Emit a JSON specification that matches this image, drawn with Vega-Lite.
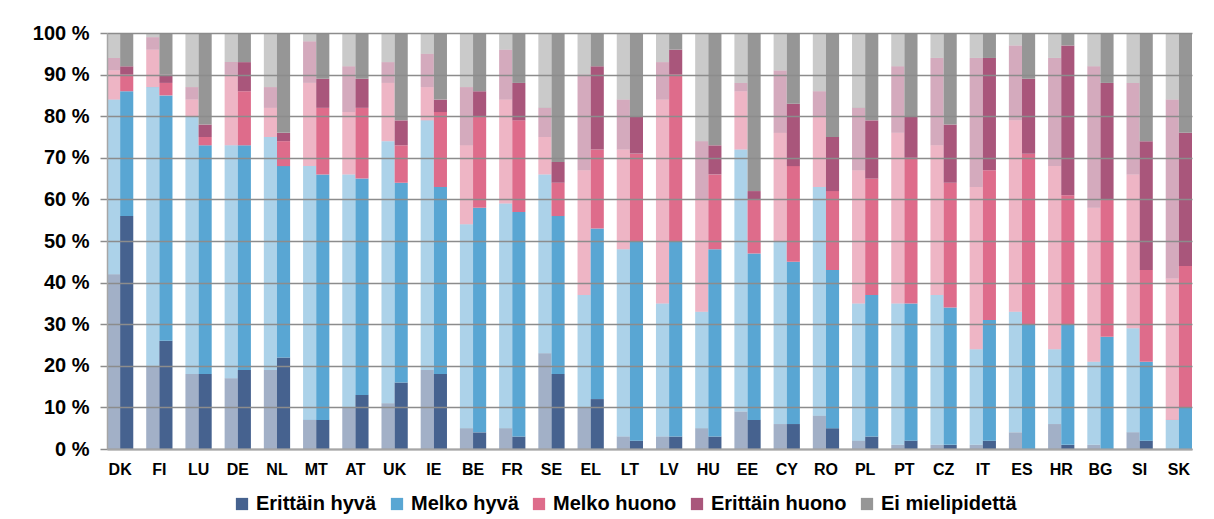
{
  "$schema": "https://vega.github.io/schema/vega-lite/v6.json",
  "width": 1085,
  "height": 416,
  "autosize": {"type": "none"},
  "padding": {"left": 107, "top": 33, "right": 22, "bottom": 70},
  "background": "white",
  "config": {
    "view": {"stroke": null},
    "font": "Liberation Sans"
  },
  "datasets": {
    "luokat": [
      {"k": "eh", "luokka": "Erittäin hyvä", "n": 1},
      {"k": "mh", "luokka": "Melko hyvä", "n": 2},
      {"k": "mhu", "luokka": "Melko huono", "n": 3},
      {"k": "ehu", "luokka": "Erittäin huono", "n": 4},
      {"k": "ei", "luokka": "Ei mielipidettä", "n": 5}
    ],
    "maat": [
      {"maa": "DK", "aalto": "aiempi", "eh": 42, "mh": 42, "mhu": 7, "ehu": 3, "ei": 6},
      {"maa": "DK", "aalto": "uusin", "eh": 56, "mh": 30, "mhu": 4, "ehu": 2, "ei": 8},
      {"maa": "FI", "aalto": "aiempi", "eh": 20, "mh": 67, "mhu": 9, "ehu": 3, "ei": 1},
      {"maa": "FI", "aalto": "uusin", "eh": 26, "mh": 59, "mhu": 3, "ehu": 2, "ei": 10},
      {"maa": "LU", "aalto": "aiempi", "eh": 18, "mh": 62, "mhu": 4, "ehu": 3, "ei": 13},
      {"maa": "LU", "aalto": "uusin", "eh": 18, "mh": 55, "mhu": 2, "ehu": 3, "ei": 22},
      {"maa": "DE", "aalto": "aiempi", "eh": 17, "mh": 56, "mhu": 17, "ehu": 3, "ei": 7},
      {"maa": "DE", "aalto": "uusin", "eh": 19, "mh": 54, "mhu": 13, "ehu": 7, "ei": 7},
      {"maa": "NL", "aalto": "aiempi", "eh": 19, "mh": 56, "mhu": 7, "ehu": 5, "ei": 13},
      {"maa": "NL", "aalto": "uusin", "eh": 22, "mh": 46, "mhu": 6, "ehu": 2, "ei": 24},
      {"maa": "MT", "aalto": "aiempi", "eh": 7, "mh": 61, "mhu": 20, "ehu": 10, "ei": 2},
      {"maa": "MT", "aalto": "uusin", "eh": 7, "mh": 59, "mhu": 16, "ehu": 7, "ei": 11},
      {"maa": "AT", "aalto": "aiempi", "eh": 10, "mh": 56, "mhu": 15, "ehu": 11, "ei": 8},
      {"maa": "AT", "aalto": "uusin", "eh": 13, "mh": 52, "mhu": 17, "ehu": 7, "ei": 11},
      {"maa": "UK", "aalto": "aiempi", "eh": 11, "mh": 63, "mhu": 14, "ehu": 5, "ei": 7},
      {"maa": "UK", "aalto": "uusin", "eh": 16, "mh": 48, "mhu": 9, "ehu": 6, "ei": 21},
      {"maa": "IE", "aalto": "aiempi", "eh": 19, "mh": 60, "mhu": 8, "ehu": 8, "ei": 5},
      {"maa": "IE", "aalto": "uusin", "eh": 18, "mh": 45, "mhu": 18, "ehu": 3, "ei": 16},
      {"maa": "BE", "aalto": "aiempi", "eh": 5, "mh": 49, "mhu": 19, "ehu": 14, "ei": 13},
      {"maa": "BE", "aalto": "uusin", "eh": 4, "mh": 54, "mhu": 22, "ehu": 6, "ei": 14},
      {"maa": "FR", "aalto": "aiempi", "eh": 5, "mh": 54, "mhu": 25, "ehu": 12, "ei": 4},
      {"maa": "FR", "aalto": "uusin", "eh": 3, "mh": 54, "mhu": 22, "ehu": 9, "ei": 12},
      {"maa": "SE", "aalto": "aiempi", "eh": 23, "mh": 43, "mhu": 9, "ehu": 7, "ei": 18},
      {"maa": "SE", "aalto": "uusin", "eh": 18, "mh": 38, "mhu": 8, "ehu": 5, "ei": 31},
      {"maa": "EL", "aalto": "aiempi", "eh": 10, "mh": 27, "mhu": 30, "ehu": 23, "ei": 10},
      {"maa": "EL", "aalto": "uusin", "eh": 12, "mh": 41, "mhu": 19, "ehu": 20, "ei": 8},
      {"maa": "LT", "aalto": "aiempi", "eh": 3, "mh": 45, "mhu": 24, "ehu": 12, "ei": 16},
      {"maa": "LT", "aalto": "uusin", "eh": 2, "mh": 48, "mhu": 21, "ehu": 9, "ei": 20},
      {"maa": "LV", "aalto": "aiempi", "eh": 3, "mh": 32, "mhu": 49, "ehu": 9, "ei": 7},
      {"maa": "LV", "aalto": "uusin", "eh": 3, "mh": 47, "mhu": 40, "ehu": 6, "ei": 4},
      {"maa": "HU", "aalto": "aiempi", "eh": 5, "mh": 28, "mhu": 27, "ehu": 14, "ei": 26},
      {"maa": "HU", "aalto": "uusin", "eh": 3, "mh": 45, "mhu": 18, "ehu": 7, "ei": 27},
      {"maa": "EE", "aalto": "aiempi", "eh": 9, "mh": 63, "mhu": 14, "ehu": 2, "ei": 12},
      {"maa": "EE", "aalto": "uusin", "eh": 7, "mh": 40, "mhu": 13, "ehu": 2, "ei": 38},
      {"maa": "CY", "aalto": "aiempi", "eh": 6, "mh": 44, "mhu": 26, "ehu": 15, "ei": 9},
      {"maa": "CY", "aalto": "uusin", "eh": 6, "mh": 39, "mhu": 23, "ehu": 15, "ei": 17},
      {"maa": "RO", "aalto": "aiempi", "eh": 8, "mh": 55, "mhu": 17, "ehu": 6, "ei": 14},
      {"maa": "RO", "aalto": "uusin", "eh": 5, "mh": 38, "mhu": 19, "ehu": 13, "ei": 25},
      {"maa": "PL", "aalto": "aiempi", "eh": 2, "mh": 33, "mhu": 32, "ehu": 15, "ei": 18},
      {"maa": "PL", "aalto": "uusin", "eh": 3, "mh": 34, "mhu": 28, "ehu": 14, "ei": 21},
      {"maa": "PT", "aalto": "aiempi", "eh": 1, "mh": 34, "mhu": 41, "ehu": 16, "ei": 8},
      {"maa": "PT", "aalto": "uusin", "eh": 2, "mh": 33, "mhu": 35, "ehu": 10, "ei": 20},
      {"maa": "CZ", "aalto": "aiempi", "eh": 1, "mh": 36, "mhu": 36, "ehu": 21, "ei": 6},
      {"maa": "CZ", "aalto": "uusin", "eh": 1, "mh": 33, "mhu": 30, "ehu": 14, "ei": 22},
      {"maa": "IT", "aalto": "aiempi", "eh": 1, "mh": 23, "mhu": 39, "ehu": 31, "ei": 6},
      {"maa": "IT", "aalto": "uusin", "eh": 2, "mh": 29, "mhu": 36, "ehu": 27, "ei": 6},
      {"maa": "ES", "aalto": "aiempi", "eh": 4, "mh": 29, "mhu": 46, "ehu": 18, "ei": 3},
      {"maa": "ES", "aalto": "uusin", "eh": 0, "mh": 30, "mhu": 41, "ehu": 18, "ei": 11},
      {"maa": "HR", "aalto": "aiempi", "eh": 6, "mh": 18, "mhu": 44, "ehu": 26, "ei": 6},
      {"maa": "HR", "aalto": "uusin", "eh": 1, "mh": 29, "mhu": 31, "ehu": 36, "ei": 3},
      {"maa": "BG", "aalto": "aiempi", "eh": 1, "mh": 20, "mhu": 37, "ehu": 34, "ei": 8},
      {"maa": "BG", "aalto": "uusin", "eh": 0, "mh": 27, "mhu": 33, "ehu": 28, "ei": 12},
      {"maa": "SI", "aalto": "aiempi", "eh": 4, "mh": 25, "mhu": 37, "ehu": 22, "ei": 12},
      {"maa": "SI", "aalto": "uusin", "eh": 2, "mh": 19, "mhu": 22, "ehu": 31, "ei": 26},
      {"maa": "SK", "aalto": "aiempi", "eh": 0, "mh": 7, "mhu": 34, "ehu": 43, "ei": 16},
      {"maa": "SK", "aalto": "uusin", "eh": 0, "mh": 10, "mhu": 34, "ehu": 32, "ei": 24}
    ]
  },
  "data": {"name": "maat"},
  "transform": [
    {"fold": ["eh", "mh", "mhu", "ehu", "ei"], "as": ["k", "v"]},
    {"lookup": "k", "from": {"data": {"name": "luokat"}, "key": "k", "fields": ["luokka", "n"]}}
  ],
  "mark": {"type": "bar", "width": {"band": 1}},
  "encoding": {
    "x": {
      "field": "maa",
      "type": "nominal",
      "sort": null,
      "scale": {"paddingInner": 0.33, "paddingOuter": 0},
      "axis": {
        "title": null,
        "labelAngle": 0,
        "ticks": false,
        "labelPadding": 12,
        "labelFont": "Liberation Sans",
        "labelFontSize": 16,
        "labelFontWeight": "bold",
        "labelColor": "#000000",
        "domainColor": "#A6A6A6",
        "domainWidth": 2,
        "zindex": 1
      }
    },
    "xOffset": {
      "field": "aalto",
      "type": "nominal",
      "sort": ["aiempi", "uusin"],
      "scale": {"paddingInner": 0, "paddingOuter": 0}
    },
    "y": {
      "field": "v",
      "type": "quantitative",
      "stack": "zero",
      "scale": {"domain": [0, 100], "nice": false},
      "axis": {
        "title": null,
        "values": [0, 10, 20, 30, 40, 50, 60, 70, 80, 90, 100],
        "labelExpr": "datum.value + ' %'",
        "labelFont": "Liberation Sans",
        "labelFontSize": 20,
        "labelFontWeight": "bold",
        "labelColor": "#000000",
        "labelPadding": 11,
        "tickSize": 7,
        "tickColor": "#8C8C8C",
        "tickWidth": 1.5,
        "domainColor": "#A6A6A6",
        "domainWidth": 1.5,
        "grid": true,
        "gridColor": "#8C8C8C",
        "gridWidth": 1.5,
        "zindex": 1
      }
    },
    "color": {
      "field": "luokka",
      "type": "nominal",
      "scale": {
        "domain": ["Erittäin hyvä", "Melko hyvä", "Melko huono", "Erittäin huono", "Ei mielipidettä"],
        "range": ["#46628F", "#59A6D3", "#DE6C8B", "#A9567B", "#969696"]
      },
      "legend": {
        "title": null,
        "orient": "none",
        "direction": "horizontal",
        "legendX": 125,
        "legendY": 461,
        "symbolType": "square",
        "symbolSize": 150,
        "symbolStrokeWidth": 0,
        "symbolOpacity": 1,
        "labelFont": "Liberation Sans",
        "labelFontSize": 20,
        "labelFontWeight": "bold",
        "labelColor": "#000000",
        "labelOffset": 4,
        "columnPadding": 10,
        "labelLimit": 300
      }
    },
    "opacity": {
      "field": "aalto",
      "type": "nominal",
      "scale": {"domain": ["aiempi", "uusin"], "range": [0.5, 1]},
      "legend": null
    },
    "order": {"field": "n", "type": "quantitative", "sort": "ascending"}
  }
}
